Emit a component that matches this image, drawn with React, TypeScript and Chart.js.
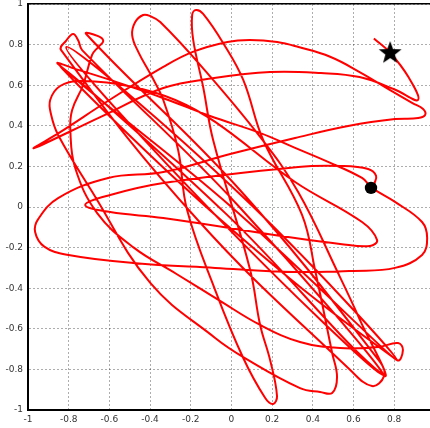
import React, { useEffect, useRef } from "react";
import { Chart, registerables } from "chart.js";

Chart.register(...registerables);

type P = [number, number];

// Trajectory, split into consecutive pieces (data units)
const segStart: P[] = [
  [0.7, 0.83], [0.78, 0.76], [0.87, 0.64], [0.917, 0.527],
];
const segArcs: P[] = [
  [0.8, 0.58], [0.63, 0.64], [0.44, 0.66], [0.19, 0.665], [-0.085, 0.635],
  [-0.335, 0.586], [-0.645, 0.443], [-0.97, 0.29], [-0.84, 0.37], [-0.6, 0.527],
  [-0.335, 0.69], [-0.19, 0.764], [-0.02, 0.813], [0.09, 0.823], [0.225, 0.813],
  [0.33, 0.788], [0.485, 0.74], [0.63, 0.665], [0.78, 0.576], [0.89, 0.512],
  [0.942, 0.483], [0.952, 0.453], [0.918, 0.438], [0.804, 0.433],
];
const segLoops: P[] = [
  [0.58, 0.4], [0.313, 0.34], [-0.006, 0.261], [-0.335, 0.172], [-0.606, 0.143],
  [-0.852, 0.044], [-0.95, -0.06], [-0.965, -0.123], [-0.92, -0.195], [-0.808, -0.235],
  [-0.483, -0.276], [-0.08, -0.3], [0.313, -0.32], [0.6, -0.315], [0.804, -0.3],
  [0.937, -0.236], [0.962, -0.153], [0.937, -0.074], [0.804, 0.025], [0.691, 0.094],
  [0.642, 0.143], [0.475, 0.222], [0.313, 0.291], [0.14, 0.365], [-0.105, 0.448],
  [-0.35, 0.542], [-0.596, 0.626], [-0.768, 0.68], [-0.852, 0.704],
];
const segFan: P[] = [
  [0.0, 0.0], [0.814, -0.754],
  [0.045, 0.06], [-0.812, 0.788],
  [-0.06, -0.06], [0.745, -0.828],
  [0.03, 0.01], [-0.734, 0.773], [-0.753, 0.82], [-0.778, 0.852], [-0.812, 0.82], [-0.837, 0.773],
  [-0.16, -0.07], [0.584, -0.803], [0.691, -0.882], [0.75, -0.833], [0.731, -0.764],
  [0.045, 0.08], [-0.714, 0.852], [-0.655, 0.842], [-0.63, 0.818], [-0.655, 0.788],
  [-0.685, 0.749], [-0.729, 0.601], [-0.783, 0.478], [-0.792, 0.379], [-0.768, 0.192],
  [-0.66, -0.03], [-0.48, -0.2], [-0.27, -0.33], [-0.06, -0.46], [0.141, -0.581],
  [0.337, -0.665], [0.534, -0.695], [0.721, -0.69], [0.819, -0.67], [0.843, -0.704],
  [0.814, -0.754],
  [-0.05, -0.065], [-0.842, 0.695],
  [-0.02, -0.04], [0.745, -0.828],
];
const segEnd: P[] = [
  [0.632, -0.557], [0.524, -0.325], [0.328, 0.074], [0.141, 0.345], [-0.154, 0.7],
  [-0.35, 0.911], [-0.4, 0.941], [-0.434, 0.946], [-0.473, 0.911], [-0.488, 0.847],
  [-0.458, 0.764], [-0.39, 0.64], [-0.335, 0.527], [-0.262, 0.281], [-0.218, -0.015],
  [-0.08, -0.409], [0.058, -0.744], [0.166, -0.941], [0.205, -0.97], [0.224, -0.931],
  [0.19, -0.754], [0.141, -0.581], [0.092, -0.31], [-0.09, 0.33], [-0.139, 0.591],
  [-0.188, 0.823], [-0.193, 0.946], [-0.174, 0.97], [-0.139, 0.951], [-0.041, 0.808],
  [0.058, 0.626], [0.156, 0.33], [0.347, -0.039], [0.411, -0.31], [0.495, -0.719],
  [0.519, -0.837], [0.495, -0.916], [0.436, -0.911], [0.337, -0.892], [0.058, -0.739],
  [-0.08, -0.645], [-0.399, -0.374], [-0.684, 0.074], [-0.852, 0.355], [-0.886, 0.453],
  [-0.891, 0.527], [-0.842, 0.596], [-0.743, 0.621], [-0.483, 0.591], [-0.276, 0.527],
  [-0.08, 0.419], [0.313, 0.123], [0.642, -0.074], [0.716, -0.163], [0.681, -0.192],
  [0.534, -0.182], [0.313, -0.153], [-0.335, -0.054], [-0.596, -0.025], [-0.719, 0.01],
  [-0.596, 0.059], [-0.335, 0.118], [0.328, 0.197], [0.534, 0.202], [0.672, 0.187],
  [0.711, 0.153], [0.701, 0.113], [0.691, 0.094],
];

const starPoint: P = [0.78, 0.763];
const circlePoint: P = [0.686, 0.094];

const xTickValues = [-1, -0.8, -0.6, -0.4, -0.2, 0, 0.2, 0.4, 0.6, 0.8];
const yTickValues = [-1, -0.8, -0.6, -0.4, -0.2, 0, 0.2, 0.4, 0.6, 0.8, 1];
const xRange: P = [-1, 0.976];
const yRange: P = [-1, 1];

function makeStar(outer: number): HTMLCanvasElement {
  const size = Math.ceil(outer * 2) + 2;
  const c = document.createElement("canvas");
  c.width = size;
  c.height = size;
  const ctx = c.getContext("2d")!;
  const cx = size / 2;
  const cy = size / 2 + 1;
  const inner = outer * 0.42;
  ctx.beginPath();
  for (let i = 0; i < 10; i++) {
    const r = i % 2 === 0 ? outer : inner;
    const a = -Math.PI / 2 + (i * Math.PI) / 5;
    const x = cx + r * Math.cos(a);
    const y = cy + r * Math.sin(a);
    if (i === 0) ctx.moveTo(x, y);
    else ctx.lineTo(x, y);
  }
  ctx.closePath();
  ctx.fillStyle = "#000";
  ctx.fill();
  return c;
}

const fmt = (v: number) => String(Math.round(v * 10) / 10);

const zeroPadH = (s: any) => {
  s.paddingLeft = 0;
  s.paddingRight = 0;
};

export default function App() {
  const ref = useRef<HTMLCanvasElement>(null);

  useEffect(() => {
    const path = [...segStart, ...segArcs, ...segLoops, ...segFan, ...segEnd].map(([x, y]) => ({ x, y }));
    const tickFont = { family: "DejaVu Sans", size: 9 };
    const gridOpts = { color: "rgba(0,0,0,0.32)", lineWidth: 1, drawTicks: false };
    const chart = new Chart(ref.current!, {
      type: "scatter",
      data: {
        datasets: [
          {
            data: [{ x: starPoint[0], y: starPoint[1] }],
            pointStyle: makeStar(12),
            pointRadius: 12,
            backgroundColor: "#000",
            borderColor: "#000",
          },
          {
            data: [{ x: circlePoint[0], y: circlePoint[1] }],
            pointStyle: "circle",
            pointRadius: 6.2,
            backgroundColor: "#000",
            borderColor: "#000",
            borderWidth: 0,
          },
          {
            data: path,
            showLine: true,
            borderColor: "#ff0000",
            borderWidth: 2,
            pointRadius: 0,
            tension: 0.4,
            fill: false,
          },
        ],
      },
      options: {
        animation: false,
        responsive: false,
        events: [],
        plugins: { legend: { display: false }, tooltip: { enabled: false } },
        layout: { autoPadding: false, padding: { top: 4, right: 0, left: 0, bottom: 0 } },
        scales: {
          x: {
            type: "linear",
            position: "bottom",
            min: xRange[0],
            max: xRange[1],
            afterBuildTicks: (s: any) => {
              s.ticks = xTickValues.map((v) => ({ value: v }));
            },
            afterFit: (s: any) => {
              s.height = 18;
              zeroPadH(s);
            },
            ticks: {
              callback: (v: any) => fmt(Number(v)),
              font: tickFont,
              color: "#333",
              padding: 4,
              maxRotation: 0,
              autoSkip: false,
            },
            grid: gridOpts,
            border: { display: true, color: "#000", width: 2, dash: [2, 2] },
          },
          x2: {
            type: "linear",
            position: "top",
            min: xRange[0],
            max: xRange[1],
            afterFit: (s: any) => {
              s.height = 0;
              zeroPadH(s);
            },
            ticks: { display: false },
            grid: { display: false, drawTicks: false },
            border: { display: true, color: "#000", width: 1.5 },
          },
          y: {
            type: "linear",
            min: yRange[0],
            max: yRange[1],
            afterBuildTicks: (s: any) => {
              s.ticks = yTickValues.map((v) => ({ value: v }));
            },
            afterFit: (s: any) => {
              s.width = 28;
              s.paddingTop = 0;
              s.paddingBottom = 0;
            },
            ticks: {
              callback: (v: any) => fmt(Number(v)),
              font: tickFont,
              color: "#333",
              padding: 5,
              autoSkip: false,
            },
            grid: gridOpts,
            border: { display: true, color: "#000", width: 2, dash: [2, 2] },
          },
        },
      },
    } as any);
    return () => chart.destroy();
  }, []);

  return (
    <div style={{ position: "fixed", left: 0, top: 0, width: 430, height: 428, background: "#fff" }}>
      <canvas ref={ref} width={430} height={428} style={{ width: 430, height: 428 }} />
    </div>
  );
}
